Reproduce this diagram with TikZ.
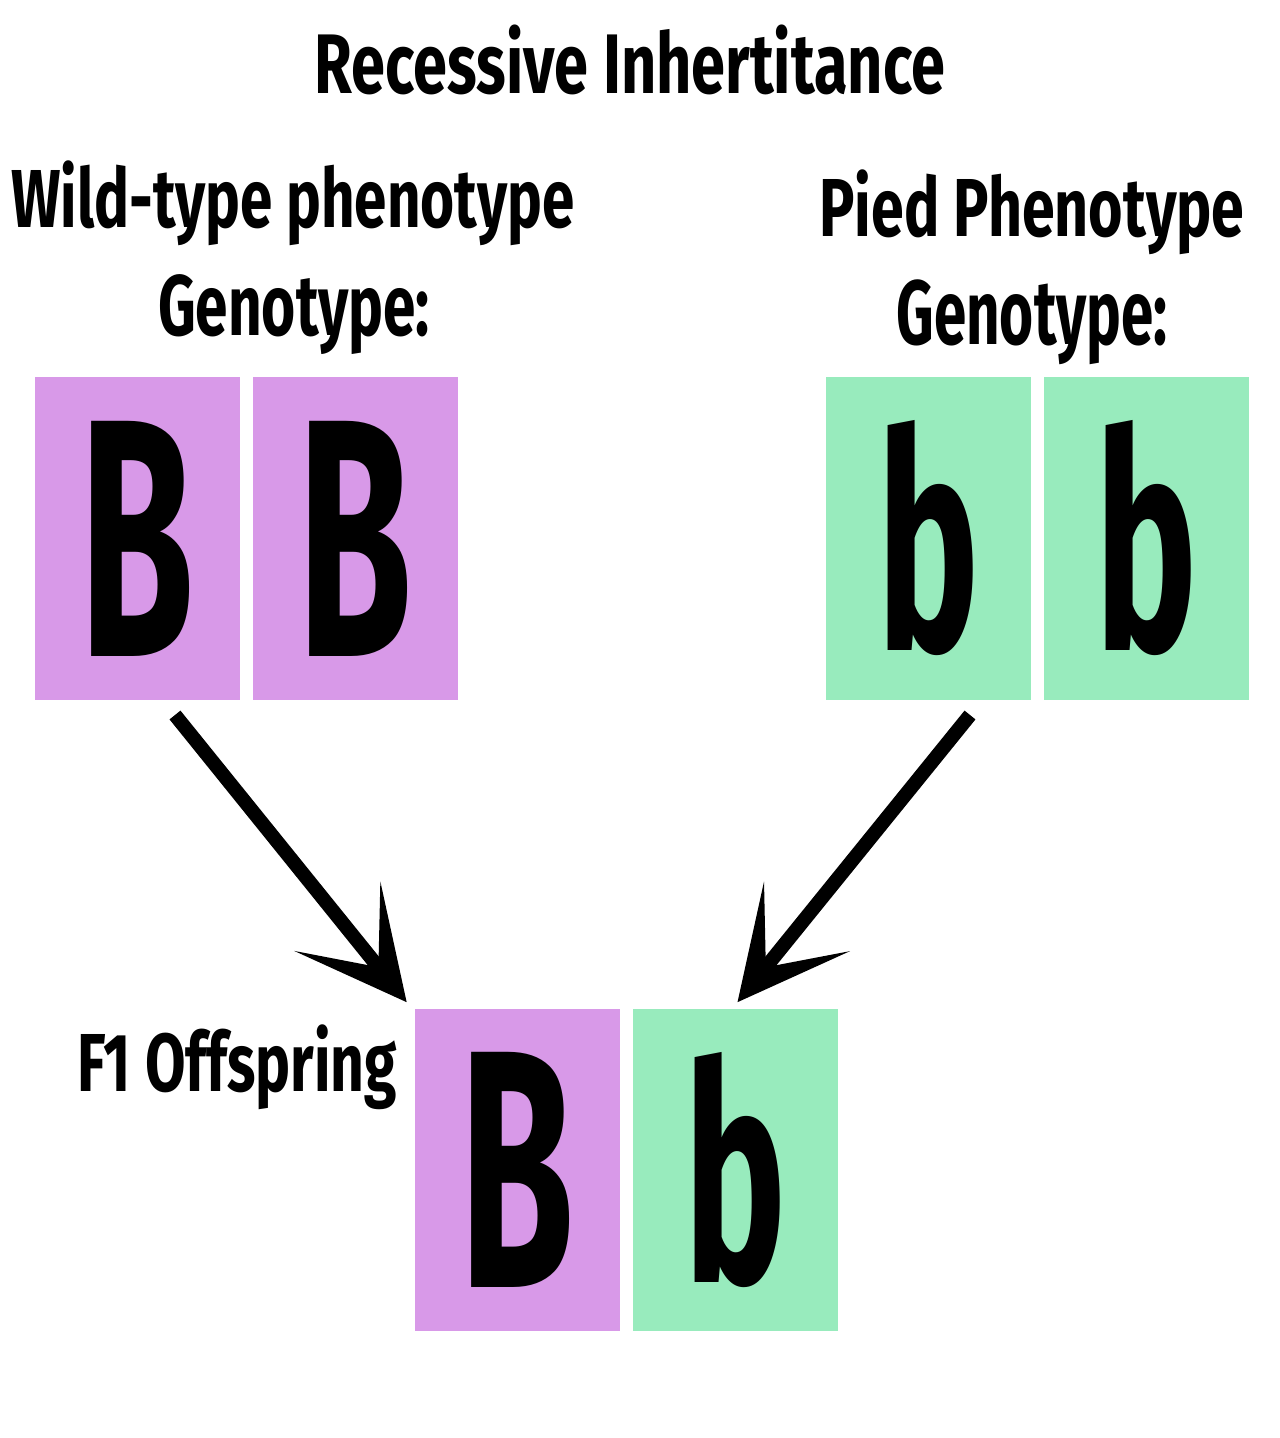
\documentclass[tikz,border=0pt]{standalone}
\usepackage{fontspec}
\setmainfont{Fira Sans}
\usetikzlibrary{arrows.meta}
\definecolor{pink}{HTML}{D899E8}
\definecolor{mint}{HTML}{98EBBD}
\newcommand{\fit}[3]{\resizebox*{#1}{#2}{\bfseries #3}}
\tikzset{
    allele/.style={minimum width=4.1cm,minimum height=6.46cm,inner sep=0pt},
    txt/.style={inner sep=0pt},
    cross/.style={line width=8pt,-{Stealth[length=2.2cm,width=2.2cm,inset=1.3cm]}}
}
\begin{document}
\begin{tikzpicture}[x=0.02cm,y=-0.02cm]
    \useasboundingbox (0,0) rectangle (1280,1438);
    \node[txt] (title) at (630,60){\fit{12.6cm}{1.4cm}{Recessive Inhertitance}};
    \node[txt] (wild) at (293,203){\fit{11.26cm}{1.7cm}{Wild-type phenotype}};
    \node[txt] (geno1) at (294,315){\fit{5.44cm}{1.6cm}{Genotype:}};
    \node[txt] (pied) at (1032,212){\fit{8.5cm}{1.7cm}{Pied Phenotype}};
    \node[txt] (geno2) at (1032,322){\fit{5.42cm}{1.7cm}{Genotype:}};
    \node[txt] (f1) at (237,1067){\fit{6.4cm}{1.7cm}{F1 Offspring}};

    \node[allele,fill=pink] (p1) at (137.5,538.5){\fit{2.3cm}{4.7cm}{B}};
    \node[allele,fill=pink] (p2) at (355.5,538.5){\fit{2.3cm}{4.7cm}{B}};
    \node[allele,fill=mint] (q1) at (928.5,538.5){\fit{2.04cm}{4.7cm}{b}};
    \node[allele,fill=mint] (q2) at (1146.5,538.5){\fit{2.04cm}{4.7cm}{b}};
    \node[allele,fill=pink] (o1) at (517.5,1170){\fit{2.3cm}{4.7cm}{B}};
    \node[allele,fill=mint] (o2) at (735.5,1170){\fit{2.04cm}{4.7cm}{b}};

    \coordinate (a1) at (175,715);
    \coordinate (a2) at (970,715);
    \draw[cross] (a1) -- ([shift={(-8,-6)}]o1.north west);
    \draw[cross] (a2) -- ([shift={(2,-6)}]o2.north);
\end{tikzpicture}
\end{document}
